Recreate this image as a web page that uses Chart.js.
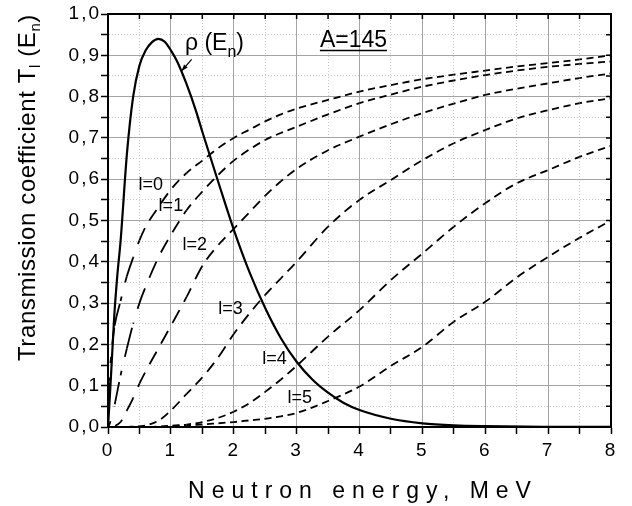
<!DOCTYPE html>
<html lang="en">
<head>
<meta charset="UTF-8">
<title>Transmission coefficients, A=145</title>
<style>
  html, body { margin: 0; padding: 0; background: #fff; }
  #wrap { width: 632px; height: 506px; }
</style>
</head>
<body>
<div id="wrap"><canvas id="myChart" width="632" height="506"></canvas></div>
<script src="https://cdn.jsdelivr.net/npm/chart.js@4.4.1/dist/chart.umd.min.js"></script>
<script>
// neutron energy grid for the T_l curves, MeV
const energy = [0, 0.02, 0.05, 0.1, 0.2, 0.3, 0.4, 0.5, 0.6, 0.8, 1, 1.25, 1.5, 1.75, 2, 2.25, 2.5, 2.75, 3, 3.5, 4, 4.5, 5, 5.5, 6, 6.5, 7, 7.5, 8]

// transmission coefficients for l = 0..5
const t0 = [0, 0.11, 0.17, 0.24, 0.305, 0.365, 0.41, 0.452, 0.485, 0.532, 0.575, 0.615, 0.645, 0.675, 0.70, 0.72, 0.74, 0.757, 0.771, 0.792, 0.812, 0.828, 0.842, 0.853, 0.863, 0.873, 0.881, 0.890, 0.900]
const t1 = [0, 0.005, 0.02, 0.05, 0.125, 0.19, 0.25, 0.30, 0.34, 0.41, 0.465, 0.525, 0.57, 0.61, 0.645, 0.672, 0.695, 0.712, 0.727, 0.757, 0.784, 0.805, 0.824, 0.839, 0.852, 0.863, 0.872, 0.879, 0.885]
const t2 = [0, 0, 0, 0.002, 0.012, 0.04, 0.07, 0.105, 0.135, 0.19, 0.245, 0.315, 0.39, 0.44, 0.48, 0.52, 0.56, 0.595, 0.625, 0.67, 0.703, 0.733, 0.76, 0.783, 0.804, 0.819, 0.832, 0.845, 0.856]
const t3 = [0, 0, 0, 0, 0, 0, 0.001, 0.002, 0.004, 0.015, 0.04, 0.08, 0.12, 0.168, 0.225, 0.275, 0.32, 0.36, 0.40, 0.485, 0.55, 0.598, 0.646, 0.687, 0.719, 0.747, 0.767, 0.784, 0.796]
const t4 = [0, 0, 0, 0, 0, 0, 0, 0, 0, 0.001, 0.003, 0.006, 0.012, 0.022, 0.037, 0.058, 0.085, 0.115, 0.148, 0.219, 0.283, 0.356, 0.42, 0.485, 0.542, 0.59, 0.622, 0.654, 0.681]
const t5 = [0, 0, 0, 0, 0, 0, 0, 0, 0, 0, 0.002, 0.004, 0.006, 0.009, 0.012, 0.016, 0.02, 0.026, 0.034, 0.063, 0.098, 0.148, 0.194, 0.255, 0.303, 0.362, 0.412, 0.458, 0.50]

// neutron spectrum rho(E_n), normalised
const rhoEnergy = [0, 0.02, 0.05, 0.1, 0.15, 0.2, 0.3, 0.4, 0.5, 0.6, 0.7, 0.8, 0.9, 1, 1.1, 1.25, 1.4, 1.5, 1.75, 2, 2.25, 2.5, 2.75, 3, 3.25, 3.5, 3.75, 4, 4.5, 5, 5.5, 6, 7, 8]
const rho = [0, 0.05, 0.13, 0.27, 0.37, 0.45, 0.66, 0.80, 0.875, 0.912, 0.932, 0.94, 0.933, 0.912, 0.885, 0.83, 0.765, 0.715, 0.595, 0.478, 0.375, 0.288, 0.215, 0.158, 0.115, 0.083, 0.058, 0.041, 0.02, 0.009, 0.004, 0.002, 0.0005, 0.0001]

const curveNames = ['l=0', 'l=1', 'l=2', 'l=3', 'l=4', 'l=5']
// where each curve name sits, in (E, T) units
const curveLabelAt = [[0.68, 0.586], [1.0, 0.534], [1.38, 0.44], [1.95, 0.286], [2.65, 0.165], [3.05, 0.071]]

const FONT = "'Liberation Sans', Arial, sans-serif"
Chart.defaults.font.family = FONT
Chart.defaults.color = '#000'

const toPoints = (xs, ys) => xs.map((x, i) => ({ x: x, y: ys[i] }))

// dashes keep a fixed horizontal pitch, so the steep parts get longer dashes
const DASH = 7, GAP = 4.5
function slopeFactor(ctx) {
    const dx = Math.abs(ctx.p1.x - ctx.p0.x)
    const dy = ctx.p1.y - ctx.p0.y
    return Math.min(Math.hypot(dx, dy) / Math.max(dx, 0.01), 3.2)
}
const dashedSegment = {
    borderDash: ctx => { const k = slopeFactor(ctx); return [DASH * k, GAP * k] },
    borderDashOffset: ctx => (ctx.p0.x % (DASH + GAP)) * slopeFactor(ctx)
}

const isMajorX = v => Math.abs(v - Math.round(v)) < 1e-6
const isMajorY = v => Math.round(v * 100) % 10 === 0

const datasets = [{
    data: toPoints(rhoEnergy, rho),
    borderColor: '#000',
    borderWidth: 2.2
}].concat([t0, t1, t2, t3, t4, t5].map(t => ({
    data: toPoints(energy, t),
    borderColor: '#000',
    borderWidth: 1.8,
    segment: dashedSegment
})))

// draws text pieces one after another, smaller pieces shifted down as subscripts
function drawRuns(ctx, runs, x, y) {
    let cx = x
    for (const r of runs) {
        ctx.font = r.size + 'px ' + FONT
        ctx.fillText(r.t, cx, y + (r.dy || 0))
        cx += ctx.measureText(r.t).width
    }
    return cx - x
}

const tickSpacing = {
    id: 'tickSpacing',
    beforeDraw(chart) { chart.ctx.letterSpacing = '2px' }
}

const frameAndText = {
    id: 'frameAndText',
    afterDraw(chart) {
        const { ctx, chartArea: a, scales: { x, y } } = chart
        ctx.save()
        ctx.letterSpacing = '0px'

        // inward ticks on the top and right frame
        ctx.strokeStyle = '#000'
        ctx.lineWidth = 1.5
        ctx.beginPath()
        x.ticks.forEach(t => {
            const px = x.getPixelForValue(t.value)
            ctx.moveTo(px, a.top); ctx.lineTo(px, a.top + 5)
        })
        y.ticks.forEach(t => {
            const py = y.getPixelForValue(t.value)
            ctx.moveTo(a.right, py); ctx.lineTo(a.right - 5, py)
        })
        ctx.stroke()

        ctx.fillStyle = '#000'
        ctx.textBaseline = 'middle'
        ctx.textAlign = 'center'
        ctx.font = '18px ' + FONT
        curveNames.forEach((name, i) => {
            const [e, v] = curveLabelAt[i]
            ctx.fillText(name, x.getPixelForValue(e), y.getPixelForValue(v))
        })

        ctx.textAlign = 'left'
        ctx.textBaseline = 'alphabetic'
        drawRuns(ctx, [{ t: 'ρ (E', size: 23 }, { t: 'n', size: 16, dy: 7 }, { t: ')', size: 23 }],
            x.getPixelForValue(1.224), y.getPixelForValue(0.913))

        // arrow from the label down to the spectrum curve
        const x1 = x.getPixelForValue(1.33), y1 = y.getPixelForValue(0.89)
        const x2 = x.getPixelForValue(1.17), y2 = y.getPixelForValue(0.862)
        ctx.lineWidth = 1.2
        ctx.beginPath(); ctx.moveTo(x1, y1); ctx.lineTo(x2, y2); ctx.stroke()
        const ang = Math.atan2(y2 - y1, x2 - x1)
        ctx.beginPath()
        ctx.moveTo(x2, y2)
        ctx.lineTo(x2 - 7 * Math.cos(ang - 0.35), y2 - 7 * Math.sin(ang - 0.35))
        ctx.lineTo(x2 - 7 * Math.cos(ang + 0.35), y2 - 7 * Math.sin(ang + 0.35))
        ctx.closePath(); ctx.fill()

        // nucleus mass, underlined
        const ax = x.getPixelForValue(3.37), ay = y.getPixelForValue(0.92)
        const aw = drawRuns(ctx, [{ t: 'A=145', size: 23 }], ax, ay)
        ctx.lineWidth = 1.5
        ctx.beginPath(); ctx.moveTo(ax, ay + 3.5); ctx.lineTo(ax + aw, ay + 3.5); ctx.stroke()

        // x axis title, letter-spaced
        ctx.font = '23px ' + FONT
        ctx.letterSpacing = '7px'
        const xt = 'Neutron energy, MeV'
        const w = ctx.measureText(xt).width - 7
        ctx.fillText(xt, (a.left + a.right) / 2 - w / 2, 498)
        ctx.letterSpacing = '0.6px'

        // y axis title with subscripts
        ctx.translate(35, 361)
        ctx.rotate(-Math.PI / 2)
        drawRuns(ctx, [
            { t: 'Transmission coefficient T', size: 24 },
            { t: 'l', size: 15, dy: 5 },
            { t: ' (E', size: 24 },
            { t: 'n', size: 15, dy: 5 },
            { t: ')', size: 24 }
        ], 0, 0)
        ctx.restore()
    }
}

const ctx = document.querySelector('#myChart').getContext('2d')
const chart = new Chart(ctx, {
    type: 'line',
    data: { datasets: datasets },
    options: {
        responsive: false,
        animation: false,
        events: [],
        layout: { padding: { top: 14, right: 21, left: 0, bottom: 0 } },
        elements: {
            point: { radius: 0 },
            line: { cubicInterpolationMode: 'monotone', fill: false }
        },
        plugins: { legend: { display: false }, tooltip: { enabled: false } },
        scales: {
            x: {
                type: 'linear', min: 0, max: 8,
                afterFit: s => { s.height = 79 },
                ticks: {
                    stepSize: 0.5, autoSkip: false, maxRotation: 0, padding: 5,
                    font: { size: 19 },
                    callback: v => isMajorX(v) ? String(Math.round(v)) : ''
                },
                grid: {
                    color: c => c.tick && isMajorX(c.tick.value) ? '#a4a4a4' : '#c8c8c8',
                    lineWidth: 1,
                    tickColor: '#000', tickLength: 7, tickWidth: 1.5
                },
                border: {
                    color: '#000', width: 2,
                    dash: c => c.tick && !isMajorX(c.tick.value) ? [1, 2] : []
                }
            },
            y: {
                type: 'linear', min: 0, max: 1,
                afterFit: s => { s.width = 108 },
                ticks: {
                    stepSize: 0.05, autoSkip: false, padding: 0,
                    font: { size: 19 },
                    callback: v => isMajorY(v) ? v.toFixed(1).replace('.', ',') : ''
                },
                grid: {
                    color: c => c.tick && isMajorY(c.tick.value) ? '#a4a4a4' : '#c8c8c8',
                    lineWidth: 1,
                    tickColor: '#000', tickLength: 7, tickWidth: 1.5
                },
                border: {
                    color: '#000', width: 2,
                    dash: c => c.tick && !isMajorY(c.tick.value) ? [1, 2] : []
                }
            },
            x2: {
                type: 'linear', position: 'top', min: 0, max: 8,
                afterFit: s => { s.height = 0 },
                ticks: { display: false },
                grid: { drawOnChartArea: false, drawTicks: false },
                border: { color: '#000', width: 2 }
            },
            y2: {
                type: 'linear', position: 'right', min: 0, max: 1,
                afterFit: s => { s.width = 0 },
                ticks: { display: false },
                grid: { drawOnChartArea: false, drawTicks: false },
                border: { color: '#000', width: 2 }
            }
        }
    },
    plugins: [tickSpacing, frameAndText]
})
</script>
</body>
</html>
